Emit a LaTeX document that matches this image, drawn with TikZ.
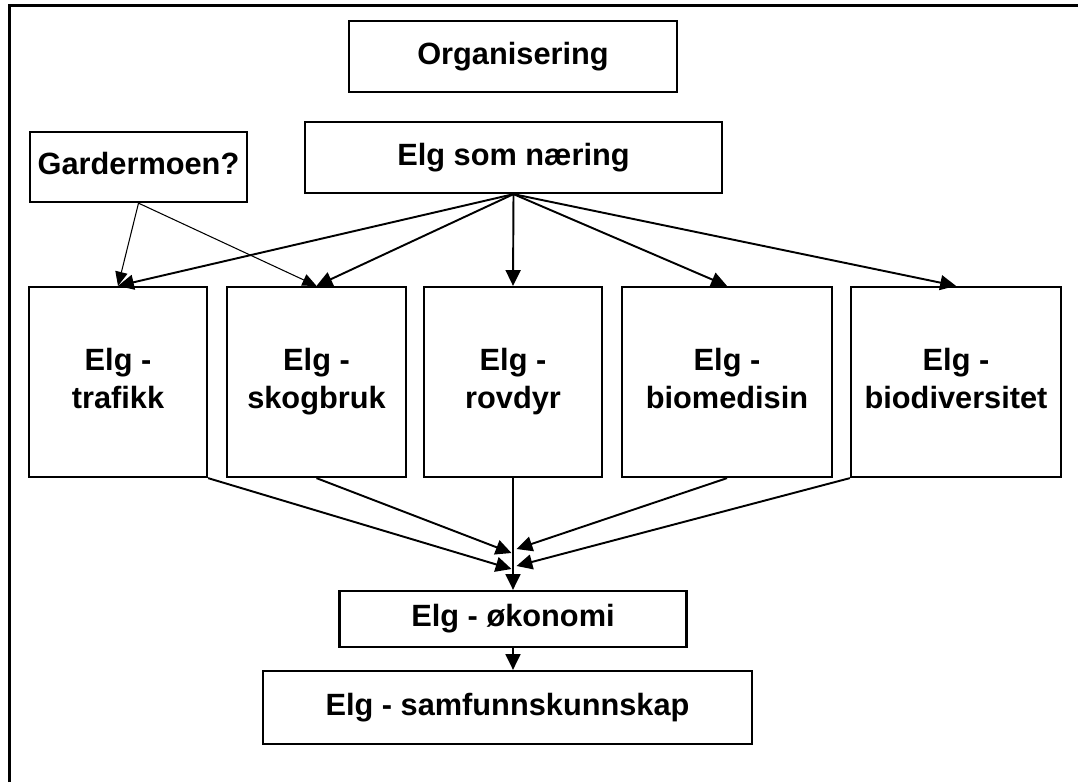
\documentclass[tikz,border=0pt]{standalone}
\usepackage{fontspec}
\setmainfont{Liberation Sans}
\usetikzlibrary{arrows.meta}
\def \rowy {382}
\def \rowheight {3.8cm}
\def \boxline {1.3pt}
\tikzset{
  box/.style={draw, line width=\boxline, align=center, inner sep=0pt,
    font=\bfseries\fontsize{17.5}{21.5}\selectfont},
  arr/.style={line width=1.1pt, -{Triangle[length=9pt,width=8.5pt]}},
  thinarr/.style={line width=0.6pt, -{Triangle[length=8pt,width=7pt]}}
}
\begin{document}
\begin{tikzpicture}[x=0.02cm, y=-0.02cm]
\useasboundingbox (0,0) rectangle (1078,782);
% Draw the frame
\draw[line width=1.7pt] (9.5,782) -- (9.5,5.5) -- (1078,5.5);
% Top boxes
\node[box, minimum width=6.56cm, minimum height=1.42cm] (org) at (513,56.5) {\strut Organisering};
\node[box, minimum width=8.34cm, minimum height=1.42cm] (naering) at (513.5,157.5) {\strut Elg som næring};
\node[box, minimum width=4.34cm, minimum height=1.4cm] (garder) at (138.5,167) {\strut Gardermoen?};
% The row of boxes
\foreach \name/\x/\w in {trafikk/118/3.56, skogbruk/316.5/3.58, rovdyr/513/3.56, biomedisin/727/4.2, biodiversitet/956/4.2}
{
\node[box, minimum width=\w cm, minimum height=\rowheight] (\name) at (\x,\rowy) {\strut Elg -\\\strut \name};
\draw[arr] (naering.south) -- (\name.north);
}
% Bottom boxes
\node[box, minimum width=6.94cm, minimum height=1.12cm] (okonomi) at (513,619) {\strut Elg - økonomi};
\node[box, minimum width=9.78cm, minimum height=1.46cm] (samf) at (507.5,707.5) {\strut Elg - samfunnskunnskap};
% Gardermoen arrows
\draw[thinarr] (garder.south) -- (trafikk.north);
\draw[thinarr] (garder.south) -- (skogbruk.north);
% Arrows into the economy box
\coordinate (tipA) at (511.5,569);
\coordinate (tipB) at (511.5,553);
\coordinate (tipC) at (516.5,549);
\coordinate (tipD) at (516.5,566);
\draw[arr] (trafikk.south east) -- (tipA);
\draw[arr] (skogbruk.south) -- (tipB);
\draw[arr] (biomedisin.south) -- (tipC);
\draw[arr] (biodiversitet.south west) -- (tipD);
\draw[arr] (rovdyr.south) -- (okonomi.north);
\draw[arr] (okonomi.south) -- (okonomi.south |- samf.north);
\end{tikzpicture}
\end{document}
